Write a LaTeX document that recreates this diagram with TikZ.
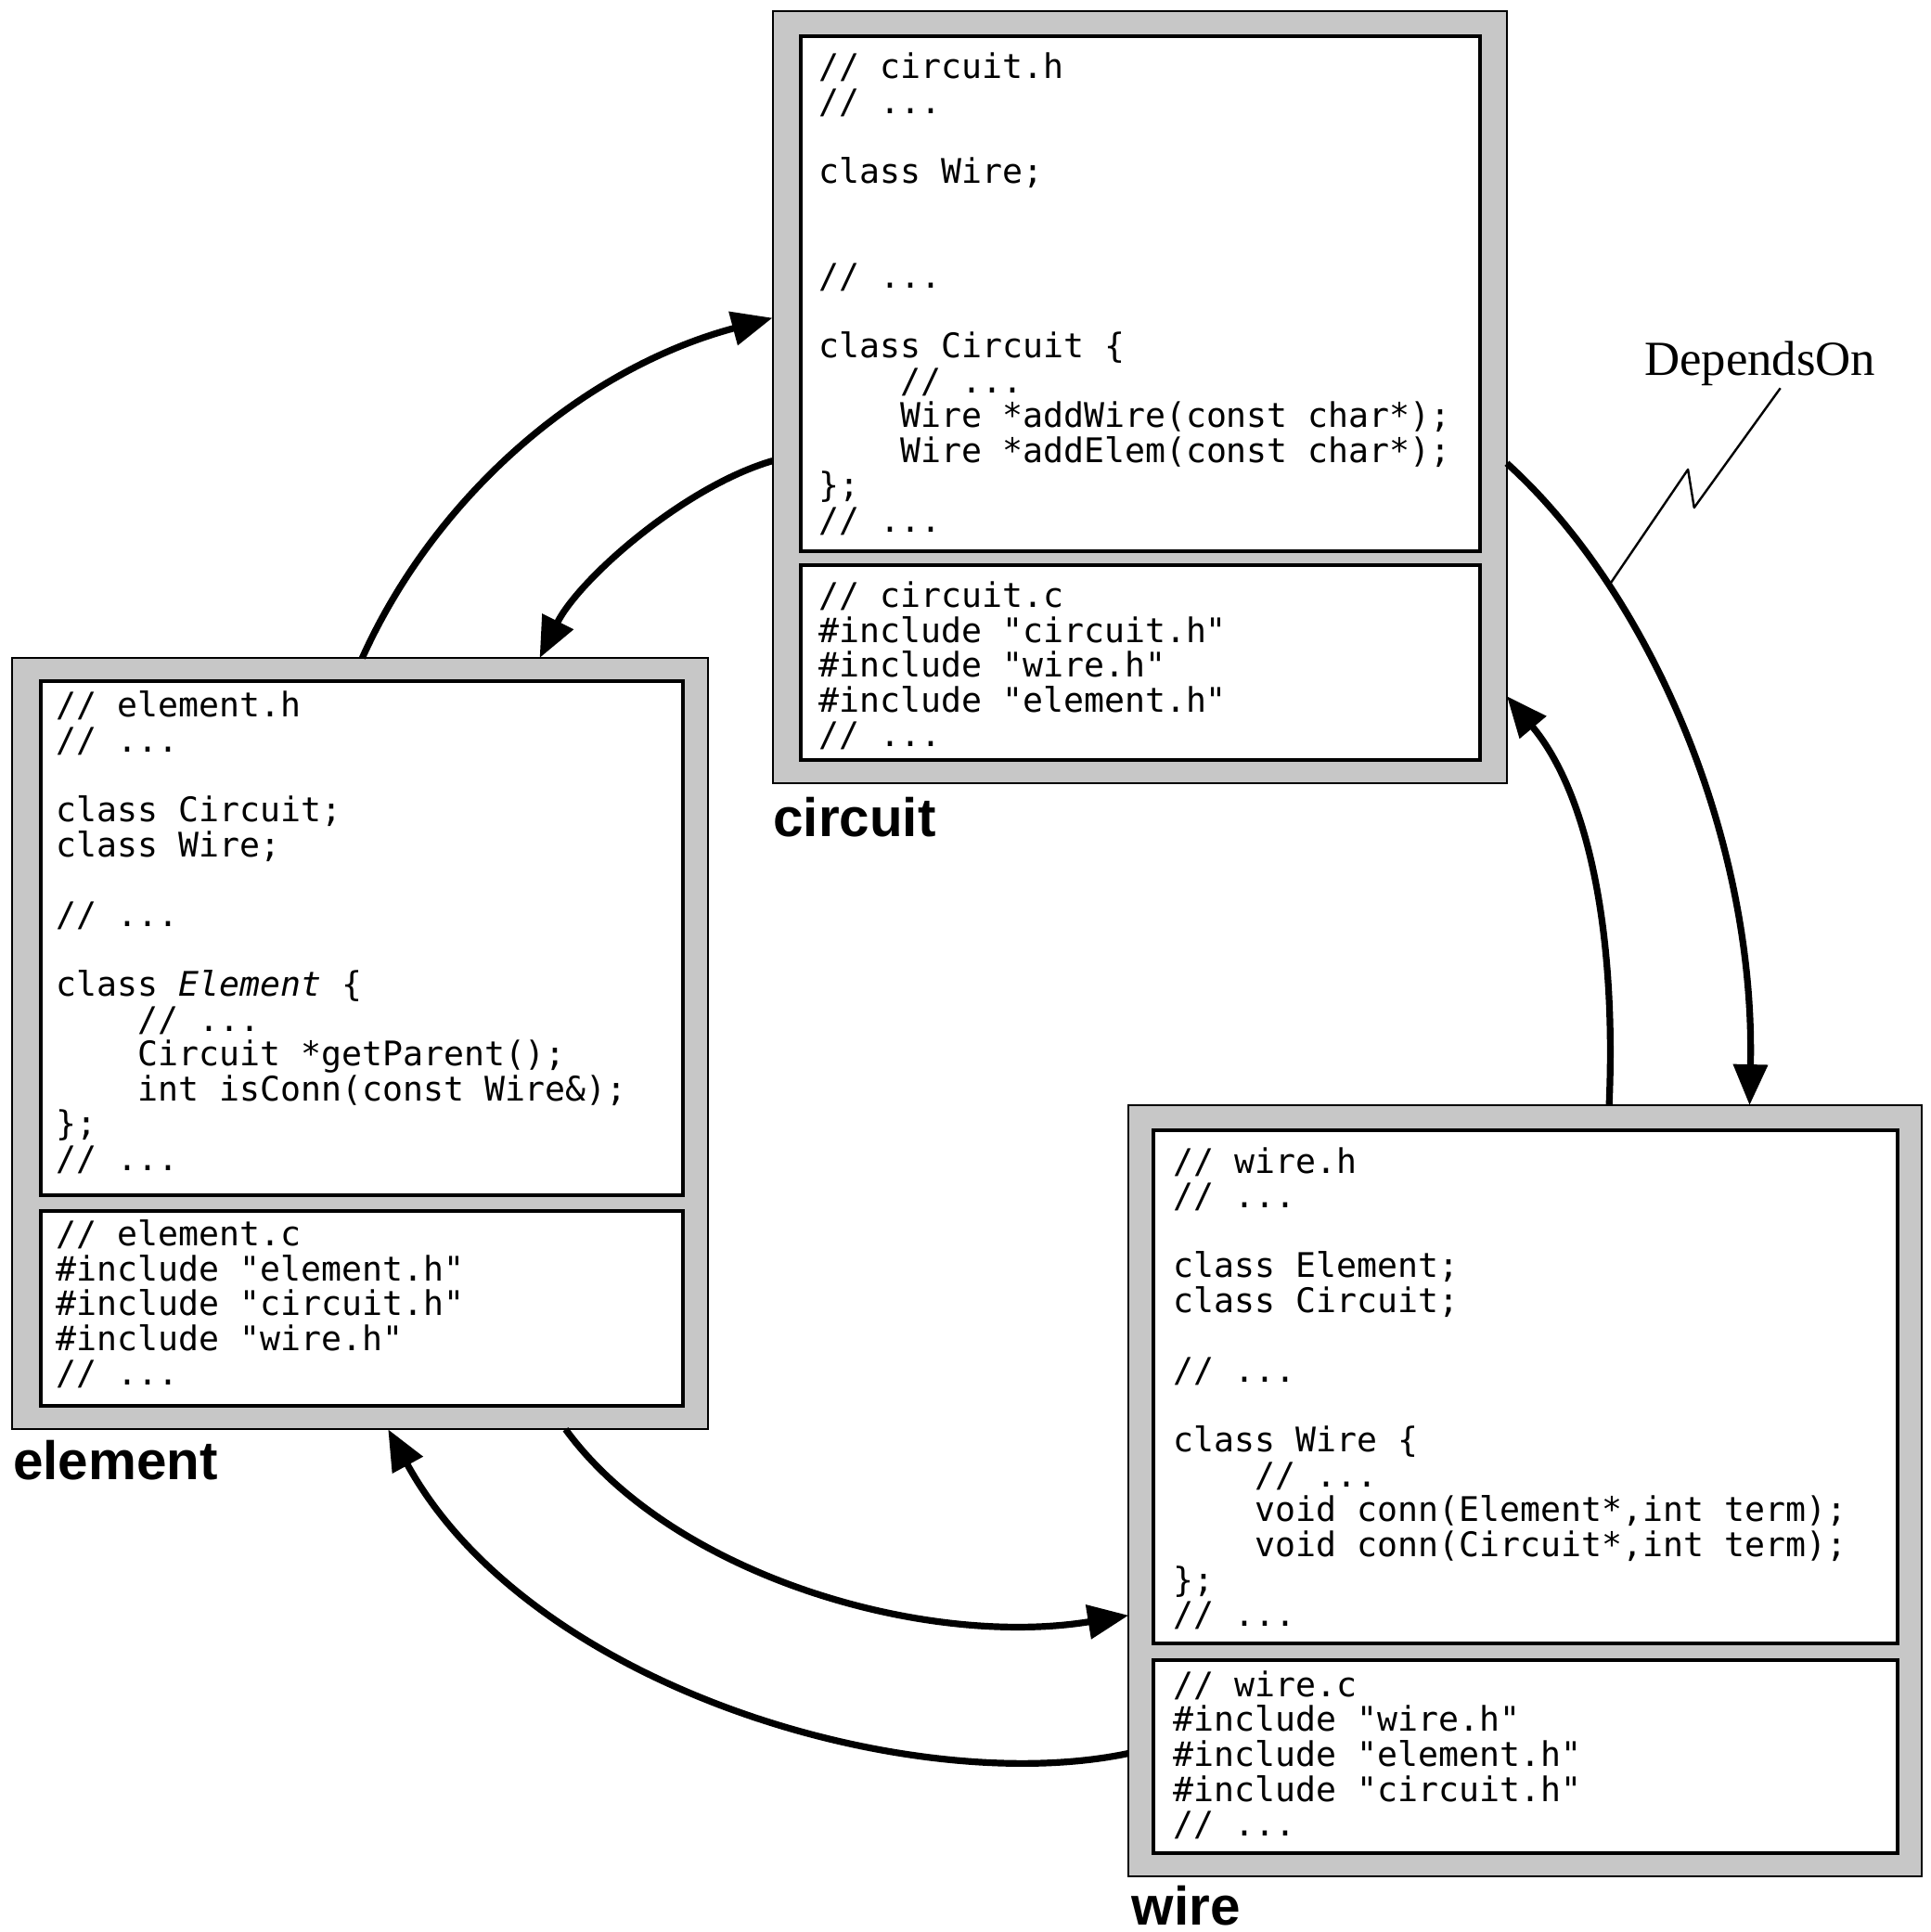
\documentclass[tikz,border=0pt]{standalone}
\usepackage{fontspec}
\newfontfamily\codefont{DejaVu Sans Mono}
\newfontfamily\lblfont{Liberation Sans}
\newfontfamily\seriffont{Liberation Serif}
\usetikzlibrary{arrows.meta,fit}
\newcommand\codelines[1]{\vtop{\baselineskip=9.4pt\lineskiplimit=-\maxdimen\lineskip=0pt\halign{##\hfil\cr#1\crcr}}}
\tikzset{
  outerbox/.style={draw=black, line width=0.5pt, fill=black!22, inner sep=0pt},
  innerbox/.style={draw=black, line width=1pt, fill=white, inner sep=0pt},
  code/.style={inner sep=0pt, anchor=base west, font=\codefont\fontsize{9.13pt}{9.4pt}\selectfont},
  modlabel/.style={inner sep=0pt, anchor=base west, font=\lblfont\bfseries\fontsize{14.6pt}{16pt}\selectfont},
  relabel/.style={inner sep=0pt, anchor=base west, font=\seriffont\fontsize{13.2pt}{15pt}\selectfont},
  dep/.style={line width=1.8pt, -{Triangle[length=11pt,width=9pt]}},
  leader/.style={line width=0.6pt, line join=round},
}
\begin{document}
\begin{tikzpicture}[x=0.3321pt,y=-0.3321pt]
\useasboundingbox (0,0) rectangle (1567,1568);

% ---------- circuit ----------
\node[outerbox, fit={(627,9) (1223,636)}] (circuit) {};
\node[innerbox, fit={(650,29) (1201,447)}] (circuith) {};
\node[innerbox, fit={(650,459) (1201,617)}] (circuitc) {};
\node[code] (circuithtxt) at (664,64) {\codelines{%
// circuit.h\cr
// ...\cr
\cr
class Wire;\cr
\cr
\cr
// ...\cr
\cr
class Circuit \{\cr
\ \ \ \ // ...\cr
\ \ \ \ Wire *addWire(const char*);\cr
\ \ \ \ Wire *addElem(const char*);\cr
\};\cr
// ...\cr}};
\node[code] (circuitctxt) at (664,493) {\codelines{%
// circuit.c\cr
\#include "circuit.h"\cr
\#include "wire.h"\cr
\#include "element.h"\cr
// ...\cr}};
\node[modlabel] (circuitlbl) at (627,679) {circuit};

% ---------- element ----------
\node[outerbox, fit={(10,534) (575,1160)}] (element) {};
\node[innerbox, fit={(33,553) (554,970)}] (elementh) {};
\node[innerbox, fit={(33,983) (554,1141)}] (elementc) {};
\node[code] (elementhtxt) at (45,582) {\codelines{%
// element.h\cr
// ...\cr
\cr
class Circuit;\cr
class Wire;\cr
\cr
// ...\cr
\cr
class {\itshape Element} \{\cr
\ \ \ \ // ...\cr
\ \ \ \ Circuit *getParent();\cr
\ \ \ \ int isConn(const Wire\&);\cr
\};\cr
// ...\cr}};
\node[code] (elementctxt) at (45,1011) {\codelines{%
// element.c\cr
\#include "element.h"\cr
\#include "circuit.h"\cr
\#include "wire.h"\cr
// ...\cr}};
\node[modlabel] (elementlbl) at (10,1201) {element};

% ---------- wire ----------
\node[outerbox, fit={(916,897) (1560,1523)}] (wire) {};
\node[innerbox, fit={(936,917) (1540,1334)}] (wireh) {};
\node[innerbox, fit={(936,1347) (1540,1504)}] (wirec) {};
\node[code] (wirehtxt) at (952,952) {\codelines{%
// wire.h\cr
// ...\cr
\cr
class Element;\cr
class Circuit;\cr
\cr
// ...\cr
\cr
class Wire \{\cr
\ \ \ \ // ...\cr
\ \ \ \ void conn(Element*,int term);\cr
\ \ \ \ void conn(Circuit*,int term);\cr
\};\cr
// ...\cr}};
\node[code] (wirectxt) at (952,1377) {\codelines{%
// wire.c\cr
\#include "wire.h"\cr
\#include "element.h"\cr
\#include "circuit.h"\cr
// ...\cr}};
\node[modlabel] (wirelbl) at (918,1562) {wire};

% ---------- connector end points ----------
\coordinate (a1s) at (294,534);   \coordinate (a1e) at (627,258);
\coordinate (a2s) at (627,374);   \coordinate (a2e) at (438,534);
\coordinate (a3s) at (1223,376);  \coordinate (a3e) at (1420,897);
\coordinate (a4s) at (1306,897);  \coordinate (a4e) at (1223,565);
\coordinate (a5s) at (459,1160);  \coordinate (a5e) at (916,1311);
\coordinate (a6s) at (916,1423);  \coordinate (a6e) at (315,1160);

% ---------- dependency arrows ----------
\draw[dep] (a1s) .. controls (352,405) and (470,300) .. (a1e);
\draw[dep] (a2s) .. controls (555,395) and (470,470) .. (a2e);
\draw[dep] (a3s) .. controls (1338,480) and (1425,680) .. (a3e) coordinate[pos=0.26] (ldB);
\draw[dep] (a4s) .. controls (1312,760) and (1290,645) .. (a4e);
\draw[dep] (a5s) .. controls (545,1278) and (750,1338) .. (a5e);
\draw[dep] (a6s) .. controls (740,1460) and (430,1370) .. (a6e);

% ---------- DependsOn label and leader ----------
\node[relabel] (dependson) at (1334,305) {DependsOn};
\coordinate (ldA) at (1445,315);
\draw[leader] (ldA) -- (1375,412) -- (1370,381) -- (ldB);
\end{tikzpicture}
\end{document}
